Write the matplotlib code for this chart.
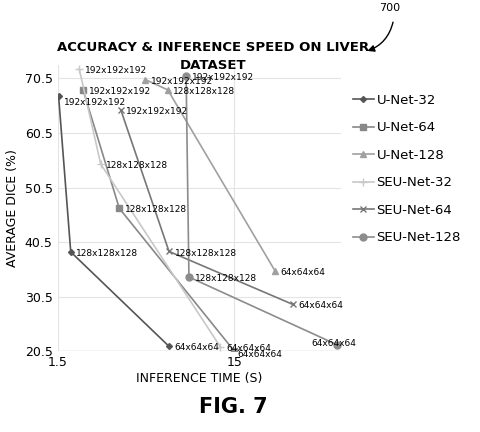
import matplotlib
matplotlib.use('Agg')
import matplotlib.pyplot as plt
from matplotlib.patches import FancyArrowPatch

# Values
series = ['U-Net-32', 'U-Net-64', 'U-Net-128', 'SEU-Net-32', 'SEU-Net-64', 'SEU-Net-128']
sizes = ['192x192x192', '128x128x128', '64x64x64']
times = {
    'U-Net-32': [1.52, 1.78, 6.4],
    'U-Net-64': [2.09, 3.35, 15.0],
    'U-Net-128': [4.7, 6.3, 25.5],
    'SEU-Net-32': [1.99, 2.63, 12.5],
    'SEU-Net-64': [3.42, 6.4, 32.0],
    'SEU-Net-128': [8.0, 8.3, 57.0],
}
dice = {
    'U-Net-32': [67.2, 38.7, 21.4],
    'U-Net-64': [68.4, 46.7, 20.5],
    'U-Net-128': [70.3, 68.4, 35.2],
    'SEU-Net-32': [72.2, 54.8, 21.3],
    'SEU-Net-64': [64.7, 38.8, 29.1],
    'SEU-Net-128': [71.0, 34.1, 21.7],
}
colors = ['#555555', '#888888', '#a0a0a0', '#c8c8c8', '#777777', '#8c8c8c']
markers = ['D', 's', '^', '+', 'x', 'o']
msizes = [3, 5, 5, 6, 5, 5]

fig = plt.figure(figsize=(4.8, 4.32), dpi=100)
ax = fig.add_axes([0.12, 0.187, 0.59, 0.663])
for name, c, m, ms in zip(series, colors, markers, msizes):
    ax.plot(times[name], dice[name], color=c, marker=m, markersize=ms, lw=1.2, label=name)
    for i, (t, d, s) in enumerate(zip(times[name], dice[name], sizes)):
        off = (4, -3)
        if name == 'U-Net-32' and i == 0:
            off = (4, -6)
        if name == 'U-Net-64' and i == 2:
            off = (2, -4)
        if name == 'SEU-Net-128' and i == 2:
            off = (-18, -1)
        ax.annotate(s, (t, d), xytext=off, textcoords='offset points', fontsize=6.5)

ax.set_xscale('log')
ax.set_xlim(1.5, 60)
ax.set_ylim(20.5, 73)
ax.set_xticks([1.5, 15])
ax.set_xticklabels(['1.5', '15'])
ax.minorticks_off()
ax.set_yticks([20.5, 30.5, 40.5, 50.5, 60.5, 70.5])
ax.set_yticklabels(['20.5', '30.5', '40.5', '50.5', '60.5', '70.5'])
ax.grid(True, color='#e4e4e4', lw=0.8)
for sp in ax.spines.values():
    sp.set_visible(False)
ax.axhline(20.5, color='#d0d0d0', lw=1)
ax.tick_params(length=0, labelsize=9)
ax.set_xlabel('INFERENCE TIME (S)', fontsize=9, labelpad=2)
ax.set_ylabel('AVERAGE DICE (%)', fontsize=9)
ax.set_title('ACCURACY & INFERENCE SPEED ON LIVER\nDATASET', fontsize=9.5,
             fontweight='bold', x=0.55, y=0.955, linespacing=1.5)
ax.legend(loc='upper left', bbox_to_anchor=(1.0, 0.94), frameon=False,
          fontsize=9.5, labelspacing=1.1, handlelength=1.6, handletextpad=0.2)

fig.text(0.79, 0.975, '700', fontsize=8)
fig.patches.append(FancyArrowPatch((0.82, 0.955), (0.76, 0.88), transform=fig.transFigure,
                                   connectionstyle='arc3,rad=-0.3', arrowstyle='-|>',
                                   mutation_scale=10, color='black', lw=1))
fig.text(0.415, 0.045, 'FIG. 7', fontsize=15, fontweight='bold')
fig.savefig('out.png')
